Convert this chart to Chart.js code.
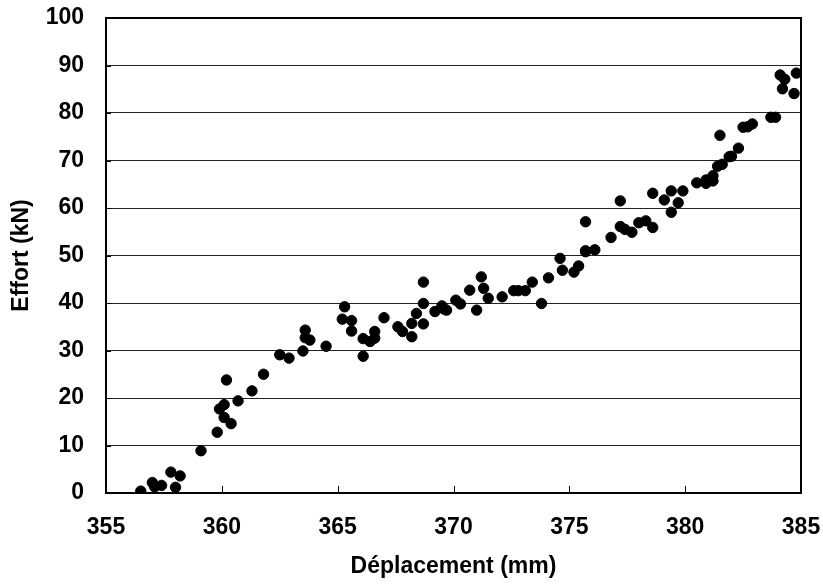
<!DOCTYPE html>
<html>
<head>
<meta charset="utf-8">
<script src="https://cdn.jsdelivr.net/npm/chart.js@4.4.1/dist/chart.umd.min.js"></script>
<style>
  html, body { margin: 0; padding: 0; background: #fff; }
  #wrap { width: 823px; height: 586px; }
</style>
</head>
<body>
<div id="wrap"><canvas id="myChart" width="823" height="586"></canvas></div>
<script>
// displacement (mm) and force (kN)
const deplacement = [
    356.5, 357.0, 357.1, 357.4, 357.8, 358.2, 358.0, 359.1, 359.8, 359.9,
    360.1, 360.1, 360.4, 360.2, 360.7, 361.3, 361.8, 362.5, 362.9, 363.5,
    363.6, 363.6, 363.8, 364.5, 365.2, 365.3, 365.6, 365.6, 366.1, 366.1,
    366.4, 366.6, 366.6, 367.0, 367.6, 367.8, 368.2, 368.2, 368.4, 368.7,
    368.7, 368.7, 369.2, 369.5, 369.6, 369.7, 370.1, 370.3, 370.7, 371.2,
    371.0, 371.3, 371.5, 372.1, 372.6, 372.8, 373.1, 373.4, 373.8, 374.1,
    374.6, 374.7, 375.2, 375.4, 375.7, 375.7, 376.1, 375.7, 376.8, 377.2,
    377.2, 377.4, 377.7, 378.0, 378.3, 378.6, 378.6, 379.1, 379.4, 379.4,
    379.7, 379.9, 380.5, 380.9, 380.9, 381.2, 381.2, 381.4, 381.6, 381.5,
    381.9, 382.0, 382.3, 382.5, 382.7, 382.9, 383.7, 383.9, 384.1, 384.3,
    384.2, 384.7, 384.8
];
const effort = [
    0.4, 2.2, 1.3, 1.6, 4.4, 3.6, 1.2, 8.9, 12.8, 17.7,
    18.6, 15.9, 14.6, 23.8, 19.4, 21.5, 25.0, 29.1, 28.4, 29.9,
    34.3, 32.7, 32.2, 30.9, 36.6, 39.2, 36.3, 34.1, 32.5, 28.8,
    31.9, 32.6, 34.0, 36.9, 35.0, 34.0, 35.7, 32.9, 37.8, 35.6,
    39.9, 44.4, 38.2, 39.4, 38.7, 38.5, 40.6, 39.8, 42.7, 45.5,
    38.5, 43.1, 41.0, 41.3, 42.6, 42.6, 42.6, 44.4, 39.9, 45.3,
    49.4, 46.9, 46.5, 47.8, 50.8, 51.0, 51.2, 57.1, 53.8, 61.5,
    56.1, 55.5, 54.9, 56.9, 57.3, 55.9, 63.1, 61.7, 63.6, 59.1,
    61.1, 63.6, 65.3, 65.9, 65.2, 66.8, 65.7, 68.8, 69.2, 75.3,
    70.8, 70.9, 72.6, 77.0, 77.1, 77.7, 79.1, 79.1, 88.0, 87.1,
    85.1, 84.1, 88.4
];
const xTicks = [355, 360, 365, 370, 375, 380, 385];
const yTicks = [0, 10, 20, 30, 40, 50, 60, 70, 80, 90, 100];

const points = deplacement.map((x, i) => ({ x: x, y: effort[i] }));
const font = { family: "'Liberation Sans', Arial, sans-serif", size: 23, weight: 'bold' };

// small tick marks pointing into the plot, like the original
const innerTicks = {
    id: 'innerTicks',
    afterDraw(chart) {
        const c = chart.ctx;
        const area = chart.chartArea;
        const xs = chart.scales.x;
        const ys = chart.scales.y;
        c.save();
        c.strokeStyle = '#000';
        c.lineWidth = 1;
        xTicks.forEach(v => {
            const px = Math.round(xs.getPixelForValue(v)) + 0.5;
            c.beginPath();
            c.moveTo(px, area.bottom);
            c.lineTo(px, area.bottom - 7);
            c.stroke();
        });
        yTicks.forEach(v => {
            const py = Math.round(ys.getPixelForValue(v)) + 0.5;
            c.beginPath();
            c.moveTo(area.left, py);
            c.lineTo(area.left + 5, py);
            c.stroke();
        });
        // frame
        c.lineWidth = 2;
        c.strokeRect(area.left, area.top, area.right - area.left, area.bottom - area.top);
        c.restore();
    }
};

// keep the plot box fixed, labels may overflow the edges
function noOverflow(s) {
    s.paddingTop = 0;
    s.paddingBottom = 0;
    s.paddingLeft = 0;
    s.paddingRight = 0;
}

const ctx = document.getElementById('myChart');
new Chart(ctx, {
    type: 'scatter',
    data: {
        datasets: [{
            label: 'Effort',
            data: points,
            backgroundColor: '#000',
            borderColor: '#000',
            pointRadius: 5.2,
            pointHoverRadius: 5.2
        }]
    },
    options: {
        responsive: false,
        animation: false,
        layout: { padding: { top: 18, right: 22, left: 0, bottom: 0 } },
        plugins: {
            legend: { display: false },
            tooltip: { enabled: false }
        },
        scales: {
            x: {
                type: 'linear',
                min: 355,
                max: 385,
                afterBuildTicks: s => { s.ticks = xTicks.map(v => ({ value: v })); },
                ticks: { color: '#000', font: font, padding: 21, maxRotation: 0 },
                grid: { display: false, drawTicks: false },
                border: { display: true, color: '#000', width: 2 },
                title: {
                    display: true,
                    text: 'Déplacement (mm)',
                    color: '#000',
                    font: font,
                    padding: { top: 10, bottom: 6 }
                },
                afterFit: s => { s.height = 93; noOverflow(s); }
            },
            y: {
                min: 0,
                max: 100,
                afterBuildTicks: s => { s.ticks = yTicks.map(v => ({ value: v })); },
                ticks: { color: '#000', font: font, padding: 22 },
                grid: { color: '#222', lineWidth: 1, drawTicks: false },
                border: { display: true, color: '#000', width: 2 },
                title: {
                    display: true,
                    text: 'Effort (kN)',
                    color: '#000',
                    font: font,
                    padding: { top: 8, bottom: 0 }
                },
                afterFit: s => { s.width = 106; noOverflow(s); }
            }
        }
    },
    plugins: [innerTicks]
});
</script>
</body>
</html>
